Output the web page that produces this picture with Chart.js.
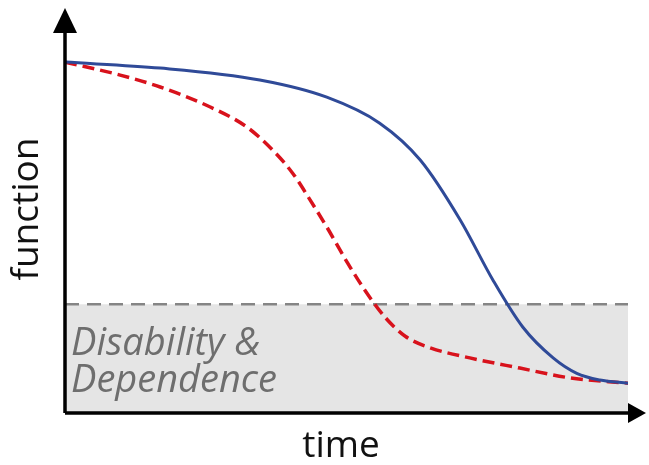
<!DOCTYPE html>
<html lang="en">
<head>
<meta charset="UTF-8">
<title>function vs time</title>
<script src="https://cdn.jsdelivr.net/npm/chart.js"></script>
<style>
    body { margin: 0; background: #fff; }
    #wrap { width: 649px; height: 465px; }
</style>
</head>
<body>
<div id="wrap"><canvas id="grafico" width="649" height="465"></canvas></div>
<script>
    // normal ageing (solid blue)
    const normalX = [0, 16.9, 34.6, 46.5, 55.9, 63.1, 70.2, 76.0, 81.3, 86.7, 90.9, 95.0, 100];
    const normalY = [100, 98.3, 94.9, 90.0, 82.6, 72.1, 55.0, 37.9, 24.5, 15.7, 11.3, 9.4, 8.5];
    // accelerated decline (dashed red)
    const declineX = [0, 9.8, 16.9, 25.8, 32.3, 36.9, 40.5, 43.5, 46.5, 50.1, 53.6, 57.0, 60.5, 65.0, 71.9, 80.8, 89.7, 100];
    const declineY = [100, 96.3, 92.9, 87.2, 81.5, 74.9, 68.2, 60.8, 53.0, 43.0, 34.2, 27.0, 21.8, 18.5, 15.7, 12.8, 10.0, 8.5];
    // disability threshold
    const thresholdX = [0, 100.5];
    const thresholdY = [31, 31];

    const zip = (xs, ys) => xs.map((x, i) => ({ x: x, y: ys[i] }));

    const ejes = {
        id: 'ejes',
        afterDatasetsDraw(chart) {
            const c = chart.ctx;
            const a = chart.chartArea;
            c.save();
            c.strokeStyle = '#000';
            c.fillStyle = '#000';
            c.lineWidth = 3.5;
            c.beginPath();
            c.moveTo(a.left, a.bottom);
            c.lineTo(a.left, a.top + 10);
            c.moveTo(a.left, a.bottom);
            c.lineTo(a.right + 2, a.bottom);
            c.stroke();
            // arrow heads
            c.beginPath();
            c.moveTo(a.left, 8);
            c.lineTo(a.left - 12, 33);
            c.lineTo(a.left + 12, 33);
            c.closePath();
            c.fill();
            c.beginPath();
            c.moveTo(a.right + 18, a.bottom);
            c.lineTo(a.right, a.bottom - 10);
            c.lineTo(a.right, a.bottom + 10);
            c.closePath();
            c.fill();

            // labels
            c.fillStyle = '#6e6e6e';
            c.font = 'italic 38px "Open Sans"';
            c.textAlign = 'left';
            c.textBaseline = 'alphabetic';
            c.fillText('Disability &', a.left + 6, 355);
            c.fillText('Dependence', a.left + 6, 392);

            c.fillStyle = '#111';
            c.font = '37px "Open Sans"';
            c.textAlign = 'center';
            c.fillText('time', 341, 457);
            c.translate(38, 209);
            c.rotate(-Math.PI / 2);
            c.fillText('function', 0, 0);
            c.restore();
        }
    };

    new Chart(document.getElementById('grafico'), {
        type: 'scatter',
        data: {
            datasets: [
                {
                    label: 'Disability & Dependence',
                    data: zip(thresholdX, thresholdY),
                    showLine: true,
                    borderColor: '#858585',
                    borderWidth: 2.5,
                    borderDash: [14, 8],
                    backgroundColor: 'rgba(225,225,225,0.85)',
                    fill: 'origin',
                    pointRadius: 0,
                    order: 3
                },
                {
                    label: 'decline',
                    data: zip(declineX, declineY),
                    showLine: true,
                    borderColor: '#d8121c',
                    borderWidth: 3.5,
                    borderDash: [12, 6],
                    cubicInterpolationMode: 'monotone',
                    pointRadius: 0,
                    order: 2
                },
                {
                    label: 'normal',
                    data: zip(normalX, normalY),
                    showLine: true,
                    borderColor: '#2f4a98',
                    borderWidth: 3,
                    cubicInterpolationMode: 'monotone',
                    pointRadius: 0,
                    order: 1
                }
            ]
        },
        options: {
            responsive: false,
            animation: false,
            layout: { padding: { left: 65, right: 21, top: 20, bottom: 52 } },
            scales: {
                x: { type: 'linear', min: 0, max: 100, display: false },
                y: { min: 0, max: 112, display: false }
            },
            plugins: {
                legend: { display: false },
                tooltip: { enabled: false }
            }
        },
        plugins: [ejes]
    });
</script>
</body>
</html>
